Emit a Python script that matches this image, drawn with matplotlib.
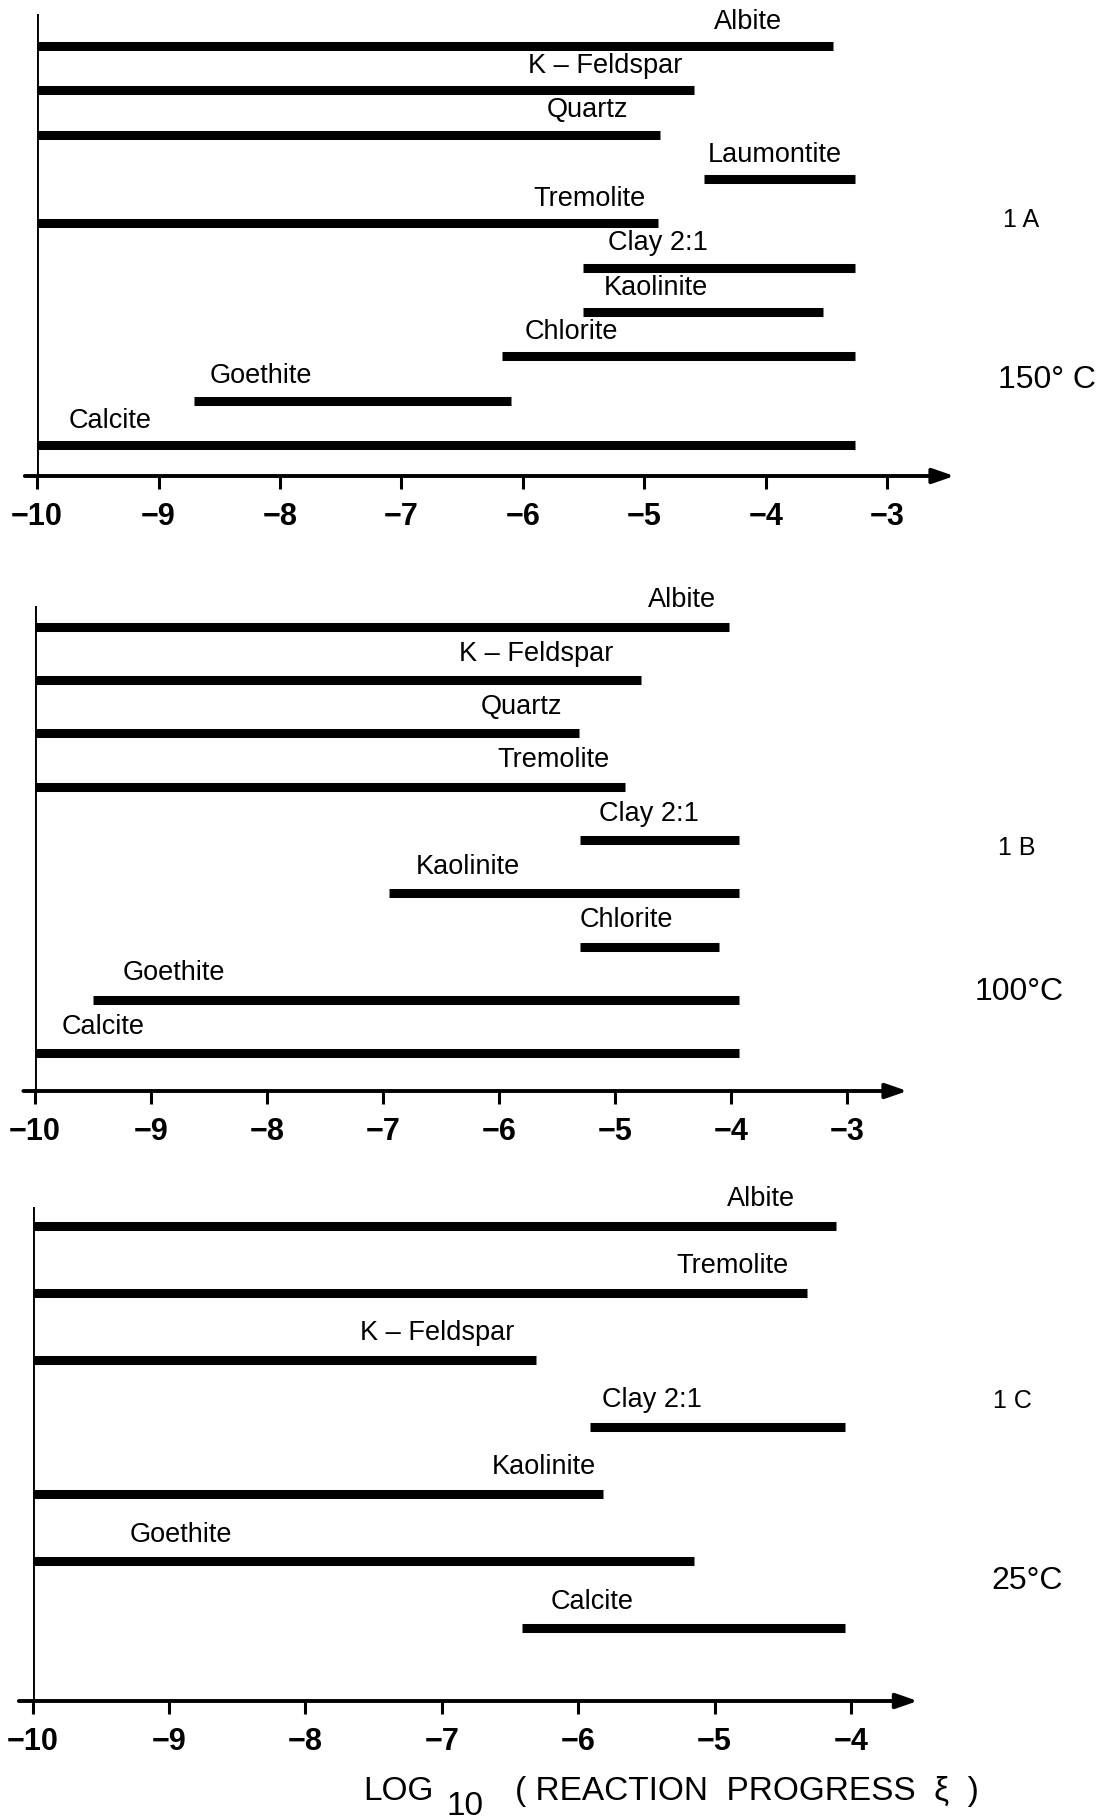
import numpy as np
import matplotlib
matplotlib.use("Agg")
import matplotlib.pyplot as plt

plt.rcParams['font.family'] = ['Liberation Sans', 'DejaVu Sans']

# Panel 1A, 150 C
minA = ["Albite", "K – Feldspar", "Quartz", "Laumontite", "Tremolite",
        "Clay 2:1", "Kaolinite", "Chlorite", "Goethite", "Calcite"]
startA = [-10, -10, -10, -4.51, -10, -5.51, -5.51, -6.17, -8.71, -10]
endA = [-3.45, -4.59, -4.87, -3.27, -4.89, -3.27, -3.53, -3.27, -6.10, -3.27]

# Panel 1B, 100 C
minB = ["Albite", "K – Feldspar", "Quartz", "Tremolite", "Clay 2:1",
        "Kaolinite", "Chlorite", "Goethite", "Calcite"]
startB = [-10, -10, -10, -10, -5.30, -6.95, -5.30, -9.50, -10]
endB = [-4.02, -4.78, -5.31, -4.91, -3.93, -3.93, -4.10, -3.93, -3.93]

# Panel 1C, 25 C
minC = ["Albite", "Tremolite", "K – Feldspar", "Clay 2:1", "Kaolinite",
        "Goethite", "Calcite"]
startC = [-10, -10, -10, -5.91, -10, -10, -6.41]
endC = [-4.11, -4.32, -6.31, -4.04, -5.82, -5.15, -4.04]

ticksA = [-10, -9, -8, -7, -6, -5, -4, -3]
ticksB = [-10, -9, -8, -7, -6, -5, -4, -3]
ticksC = [-10, -9, -8, -7, -6, -5, -4]

# label anchor x (data units) for each mineral name
labxA = [-4.15, -5.32, -5.47, -3.93, -5.45, -4.89, -4.91, -5.60, -8.16, -9.40]
labxB = [-4.42, -5.68, -5.81, -5.53, -4.71, -6.27, -4.90, -8.80, -9.41]
labxC = [-4.66, -4.87, -7.03, -5.46, -6.25, -8.91, -5.90]

W, H = 1106, 1819
fig = plt.figure(figsize=(W / 100, H / 100), dpi=100)


def panel(left, top, bottom, ppu, xtip, ylim, names, starts, ends, labx, ticks, off):
    width = (xtip + 10 + 0.05) * ppu
    ax = fig.add_axes([left / W, 1 - bottom / H, width / W, (bottom - top) / H])
    ax.set_xlim(-10, xtip + 0.05)
    ax.set_ylim(*ylim)
    for s in ax.spines.values():
        s.set_visible(False)
    rows = np.arange(len(names))
    for r, s, e, n, lx in zip(rows, starts, ends, names, labx):
        ax.plot([s, e], [r, r], color='k', lw=6.5, solid_capstyle='butt')
        ax.annotate(n, (lx, r), xytext=(0, off), textcoords='offset points',
                    ha='center', va='center', fontsize=19.5)
    # y axis
    ax.axvline(-10, color='k', lw=2.8)
    # x axis with arrow
    ax.annotate('', xy=(xtip, 0), xytext=(-10.1, 0),
                xycoords=('data', 'axes fraction'),
                textcoords=('data', 'axes fraction'),
                arrowprops=dict(arrowstyle='-|>,head_length=1.3,head_width=0.45',
                                lw=2.8, color='k', shrinkA=0, shrinkB=0),
                annotation_clip=False)
    ax.set_yticks([])
    ax.set_xticks(ticks)
    ax.set_xticklabels(["\u2212" + str(abs(t)) for t in ticks],
                       fontsize=22, fontweight='bold')
    ax.tick_params(axis='x', direction='out', length=9, width=2.2, pad=10)
    return ax


axA = panel(37, 14, 476, 121.5, -2.45, (9.70, -0.72), minA, startA, endA, labxA, ticksA, 17.5)
axB = panel(35, 606, 1091, 116.0, -2.48, (8.71, -0.39), minB, startB, endB, labxB, ticksB, 19)
axC = panel(32.5, 1207, 1701, 136.4, -3.51, (7.09, -0.28), minC, startC, endC, labxC, ticksC, 19)

# right side panel ids and temperatures
fig.text(1021 / W, 1 - 220 / H, "1 A", fontsize=18, ha='center', va='center')
fig.text(1047 / W, 1 - 380 / H, "150° C", fontsize=23, ha='center', va='center')
fig.text(1017 / W, 1 - 848 / H, "1 B", fontsize=18, ha='center', va='center')
fig.text(1019 / W, 1 - 992 / H, "100°C", fontsize=23, ha='center', va='center')
fig.text(1012 / W, 1 - 1401 / H, "1 C", fontsize=18, ha='center', va='center')
fig.text(1027 / W, 1 - 1581 / H, "25°C", fontsize=23, ha='center', va='center')

# x axis title
fig.text(363 / W, 1 - 1791 / H, "LOG", fontsize=24, ha='left', va='center')
fig.text(447 / W, 1 - 1806 / H, "10", fontsize=24, ha='left', va='center')
fig.text(515 / W, 1 - 1791 / H, "( REACTION  PROGRESS  ξ  )", fontsize=24,
         ha='left', va='center')

fig.savefig("out.png", dpi=100)
